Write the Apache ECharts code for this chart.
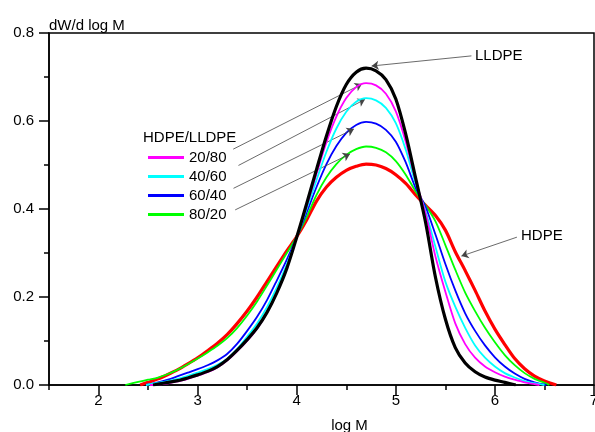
<!DOCTYPE html>
<html><head><meta charset="utf-8">
<script src="https://cdn.jsdelivr.net/npm/echarts@6/dist/echarts.min.js"></script>
<style>html,body{margin:0;padding:0;background:#fff}#c{width:595px;height:432px}</style>
</head><body><div id="c"></div>
<script>
// ---- data (log M, dW/d log M) ----
const xMajorTicks = [2, 3, 4, 5, 6, 7];
const xMinorTicks = [1.5, 2.5, 3.5, 4.5, 5.5, 6.5];
const yTicks = [0, 0.2, 0.4, 0.6, 0.8];
const blendNames = ['20/80', '40/60', '60/40', '80/20'];

const hdpe = [[2.42,0],[2.5,0.006],[2.6,0.014],[2.7,0.024],[2.8,0.035],[2.9,0.048],[3.0,0.062],[3.1,0.078],[3.2,0.095],[3.3,0.115],[3.4,0.14],[3.5,0.168],[3.6,0.2],[3.7,0.235],[3.8,0.27],[3.9,0.305],[4.0,0.337],[4.1,0.375],[4.2,0.418],[4.3,0.45],[4.4,0.472],[4.5,0.488],[4.6,0.497],[4.7,0.502],[4.8,0.5],[4.9,0.492],[5.0,0.478],[5.1,0.458],[5.2,0.432],[5.3,0.408],[5.4,0.385],[5.5,0.352],[5.6,0.303],[5.7,0.26],[5.8,0.215],[5.9,0.168],[6.0,0.127],[6.1,0.092],[6.2,0.06],[6.3,0.037],[6.4,0.02],[6.5,0.009],[6.62,0]];
const b8020 = [[2.27,0],[2.4,0.007],[2.5,0.012],[2.6,0.017],[2.7,0.025],[2.8,0.035],[2.9,0.047],[3.0,0.06],[3.1,0.074],[3.2,0.089],[3.3,0.107],[3.4,0.13],[3.5,0.158],[3.6,0.19],[3.7,0.226],[3.8,0.263],[3.9,0.3],[4.0,0.337],[4.1,0.382],[4.2,0.432],[4.3,0.472],[4.4,0.502],[4.5,0.523],[4.6,0.536],[4.7,0.542],[4.8,0.539],[4.9,0.529],[5.0,0.509],[5.1,0.478],[5.2,0.44],[5.3,0.408],[5.4,0.372],[5.5,0.318],[5.6,0.262],[5.7,0.21],[5.8,0.168],[5.9,0.13],[6.0,0.097],[6.1,0.068],[6.2,0.045],[6.3,0.027],[6.4,0.014],[6.5,0.005],[6.55,0]];
const b6040 = [[2.48,0],[2.6,0.006],[2.7,0.012],[2.8,0.02],[2.9,0.028],[3.0,0.036],[3.1,0.045],[3.2,0.056],[3.3,0.071],[3.4,0.094],[3.5,0.123],[3.6,0.155],[3.7,0.193],[3.8,0.238],[3.9,0.285],[4.0,0.336],[4.1,0.392],[4.2,0.45],[4.3,0.502],[4.4,0.543],[4.5,0.573],[4.6,0.591],[4.7,0.598],[4.8,0.594],[4.9,0.58],[5.0,0.553],[5.1,0.506],[5.2,0.448],[5.3,0.405],[5.4,0.342],[5.5,0.275],[5.6,0.215],[5.7,0.163],[5.8,0.123],[5.9,0.09],[6.0,0.063],[6.1,0.042],[6.2,0.026],[6.3,0.014],[6.4,0.006],[6.52,0]];
const b4060 = [[2.48,0],[2.6,0.005],[2.7,0.009],[2.8,0.014],[2.9,0.021],[3.0,0.028],[3.1,0.036],[3.2,0.046],[3.3,0.06],[3.4,0.082],[3.5,0.11],[3.6,0.14],[3.7,0.177],[3.8,0.222],[3.9,0.274],[4.0,0.336],[4.1,0.4],[4.2,0.466],[4.3,0.53],[4.4,0.583],[4.5,0.621],[4.6,0.644],[4.7,0.652],[4.8,0.647],[4.9,0.63],[5.0,0.595],[5.1,0.535],[5.2,0.458],[5.3,0.395],[5.4,0.314],[5.5,0.235],[5.6,0.178],[5.7,0.13],[5.8,0.09],[5.9,0.062],[6.0,0.042],[6.1,0.027],[6.2,0.017],[6.3,0.009],[6.4,0.004],[6.5,0]];
const b2080 = [[2.52,0],[2.6,0.001],[2.7,0.004],[2.8,0.008],[2.9,0.014],[3.0,0.021],[3.1,0.029],[3.2,0.04],[3.3,0.056],[3.4,0.077],[3.5,0.1],[3.6,0.128],[3.7,0.164],[3.8,0.21],[3.9,0.266],[4.0,0.336],[4.1,0.406],[4.2,0.48],[4.3,0.552],[4.4,0.61],[4.5,0.652],[4.6,0.677],[4.7,0.686],[4.8,0.681],[4.9,0.662],[5.0,0.622],[5.1,0.553],[5.2,0.465],[5.3,0.39],[5.4,0.292],[5.5,0.212],[5.6,0.14],[5.7,0.093],[5.8,0.062],[5.9,0.042],[6.0,0.029],[6.1,0.019],[6.2,0.012],[6.3,0.006],[6.4,0.002],[6.45,0]];
const lldpe = [[2.55,0],[2.6,0.002],[2.7,0.006],[2.8,0.01],[2.9,0.016],[3.0,0.023],[3.1,0.031],[3.2,0.042],[3.3,0.058],[3.4,0.079],[3.5,0.103],[3.6,0.13],[3.7,0.165],[3.8,0.21],[3.9,0.265],[4.0,0.336],[4.1,0.412],[4.2,0.49],[4.3,0.566],[4.4,0.633],[4.5,0.683],[4.6,0.711],[4.7,0.72],[4.8,0.714],[4.9,0.694],[5.0,0.65],[5.1,0.57],[5.2,0.47],[5.3,0.37],[5.4,0.245],[5.5,0.15],[5.6,0.085],[5.7,0.05],[5.8,0.03],[5.9,0.018],[6.0,0.011],[6.1,0.006],[6.21,0]];

// annotation arrows: [from, to] in data coordinates
const arrowFrom = [[3.359,0.536],[3.412,0.499],[3.362,0.447],[3.379,0.398],[5.763,0.748],[6.222,0.336]];
const arrowTo   = [[4.658,0.684],[4.688,0.649],[4.577,0.582],[4.537,0.525],[4.756,0.725],[5.662,0.293]];

const FONT = '"Liberation Sans", Arial, Helvetica, sans-serif';
const chart = echarts.init(document.getElementById('c'), null, {renderer:'canvas'});

function lineSeries(name, data, color, width, z) {
  return {name, type:'line', data, xAxisIndex:0, yAxisIndex:0, symbol:'none', showSymbol:false,
    smooth:0.3, color, lineStyle:{color, width}, z, silent:true, emphasis:{disabled:true}};
}

const series = [
  lineSeries('HDPE', hdpe, '#ff0000', 3.2, 2),
  lineSeries('80/20', b8020, '#00ff00', 1.8, 3),
  lineSeries('60/40', b6040, '#0000ff', 1.8, 4),
  lineSeries('40/60', b4060, '#00ffff', 1.8, 5),
  lineSeries('20/80', b2080, '#ff00ff', 1.8, 6),
  lineSeries('LLDPE', lldpe, '#000000', 3.2, 7)
];
series[5].markLine = {
  silent:true, animation:false, symbol:['none','arrow'], symbolSize:7,
  label:{show:false}, emphasis:{disabled:true},
  lineStyle:{color:'#444', width:0.8, type:'solid'},
  data: arrowFrom.map((f,i)=>[{coord:f},{coord:arrowTo[i]}])
};

const axisLineStyle = {color:'#000', width:1.5};
chart.setOption({
  animation:false,
  backgroundColor:'#fff',
  title:{text:'HDPE/LLDPE', left:143, top:130, padding:0,
    textStyle:{fontSize:15, fontWeight:'normal', fontFamily:FONT, color:'#000'}},
  legend:{data:blendNames, orient:'vertical', left:143, top:145, icon:'rect', itemWidth:36, itemHeight:3, itemGap:4,
    selectedMode:false, textStyle:{fontSize:15, fontFamily:FONT, color:'#000', lineHeight:15}},
  grid:{left:49, right:1, top:33, bottom:47, show:true, borderColor:'#000', borderWidth:1.5,
    containLabel:false, outerBoundsMode:'none'},
  xAxis:[{
    type:'value', min:1.5, max:7, position:'bottom',
    axisLine:{show:true, lineStyle:axisLineStyle},
    axisTick:{show:true, length:10, customValues:xMajorTicks, lineStyle:axisLineStyle},
    axisLabel:{customValues:xMajorTicks, margin:8, fontSize:15, fontFamily:FONT, color:'#000'},
    splitLine:{show:false},
    name:'log M', nameLocation:'middle', nameGap:33,
    nameTextStyle:{fontSize:15, fontFamily:FONT, color:'#000', padding:[0,0,0,56]}
  },{
    type:'value', min:1.5, max:7, position:'bottom', offset:0,
    axisLine:{show:false},
    axisTick:{show:true, length:5, customValues:xMinorTicks, lineStyle:axisLineStyle},
    axisLabel:{show:false}, splitLine:{show:false}
  }],
  yAxis:{
    type:'value', min:0, max:0.8, interval:0.2,
    axisLine:{show:true, lineStyle:axisLineStyle},
    axisTick:{show:true, length:10, lineStyle:axisLineStyle},
    minorTick:{show:true, splitNumber:2, length:5, lineStyle:axisLineStyle},
    axisLabel:{margin:15, fontSize:15, fontFamily:FONT, color:'#000', formatter:v=>v.toFixed(1)},
    splitLine:{show:false}, minorSplitLine:{show:false},
    name:'dW/d log M', nameLocation:'end', nameGap:0,
    nameTextStyle:{align:'left', fontSize:15, fontFamily:FONT, color:'#000'}
  },
  graphic:[
    {type:'text', left:475, top:48, style:{text:'LLDPE', font:'15px '+FONT, fill:'#000'}},
    {type:'text', left:521, top:228, style:{text:'HDPE', font:'15px '+FONT, fill:'#000'}}
  ],
  series
});
</script></body></html>
